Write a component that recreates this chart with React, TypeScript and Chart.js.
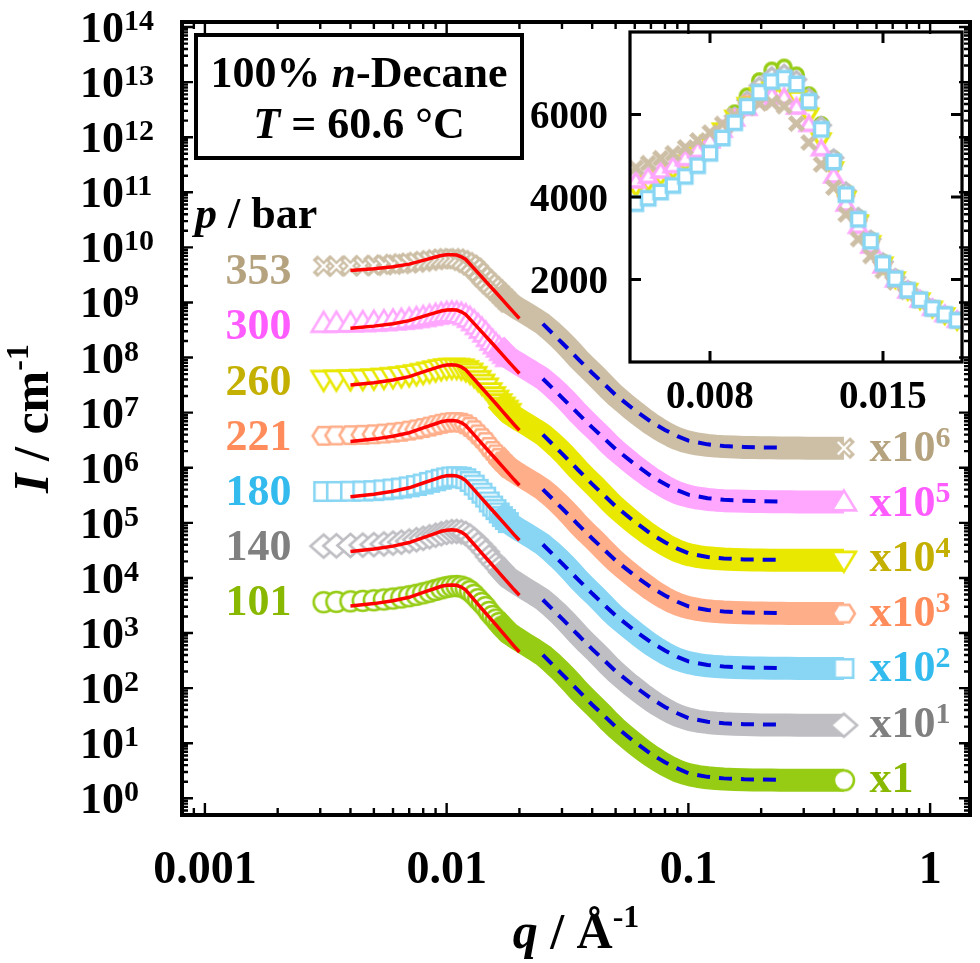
import React, { useEffect, useRef } from 'react';
import { Chart, registerables } from 'chart.js';

Chart.register(...registerables);

// ---------------- data ----------------
const q = [
  0.0031, 0.0035, 0.004, 0.0045, 0.005, 0.0055, 0.006, 0.0065, 0.007, 0.0075,
  0.008, 0.0085, 0.009, 0.0095, 0.01, 0.0105, 0.011, 0.0115, 0.012, 0.0125,
  0.013, 0.0135, 0.014, 0.0145, 0.015, 0.0155, 0.016, 0.0165, 0.017, 0.0175,
  0.018, 0.019, 0.02, 0.021, 0.022, 0.023, 0.024, 0.025, 0.027, 0.029,
  0.031, 0.033, 0.035, 0.038, 0.041, 0.044, 0.047, 0.05, 0.054, 0.058,
  0.062, 0.066, 0.07, 0.075, 0.08, 0.085, 0.09, 0.096, 0.102, 0.11,
  0.12, 0.13, 0.14, 0.155, 0.17, 0.185, 0.2, 0.22, 0.24, 0.26,
  0.285, 0.31, 0.34, 0.37, 0.4, 0.44,
];

const I101 = [
  3620, 3680, 3760, 3840, 3930, 4070, 4230, 4420, 4660, 4940,
  5260, 5640, 6040, 6450, 6820, 7080, 7150, 6960, 6480, 5760,
  4930, 4120, 3500, 2960, 2420, 2040, 1760, 1520, 1310, 1150,
  1010, 855, 740, 648, 570, 505, 447, 398, 298, 222,
  165, 123, 92, 64, 46, 34, 25, 19.2, 14.3, 11.0,
  8.7, 7.1, 5.9, 4.85, 4.1, 3.55, 3.15, 2.85, 2.65, 2.48,
  2.36, 2.29, 2.24, 2.2, 2.18, 2.16, 2.15, 2.14, 2.13, 2.13,
  2.12, 2.12, 2.12, 2.12, 2.12, 2.12,
];
const I140 = [
  3780, 3830, 3890, 3950, 4020, 4140, 4290, 4460, 4680, 4940,
  5240, 5590, 5960, 6350, 6700, 6940, 7000, 6850, 6420, 5740,
  4950, 4150, 3530, 2980, 2430, 2050, 1760, 1520, 1310, 1150,
  1010, 860, 745, 652, 575, 510, 452, 402, 302, 226,
  168, 125, 94, 65, 47, 34.5, 25.5, 19.6, 14.6, 11.2,
  8.9, 7.2, 6.0, 4.9, 4.15, 3.6, 3.2, 2.9, 2.68, 2.5,
  2.38, 2.3, 2.25, 2.21, 2.18, 2.16, 2.15, 2.14, 2.13, 2.13,
  2.12, 2.12, 2.12, 2.12, 2.12, 2.12,
];
const I180 = [
  3700, 3720, 3750, 3780, 3840, 3970, 4120, 4280, 4500, 4760,
  5060, 5430, 5800, 6200, 6540, 6800, 6880, 6740, 6320, 5640,
  4850, 4060, 3460, 2930, 2390, 2020, 1740, 1510, 1300, 1150,
  1010, 860, 745, 655, 580, 515, 455, 405, 305, 228,
  170, 127, 95, 66, 48, 35, 26, 20, 15, 11.6,
  9.2, 7.5, 6.2, 5.1, 4.3, 3.75, 3.35, 3.05, 2.85, 2.67,
  2.54, 2.46, 2.41, 2.37, 2.34, 2.32, 2.31, 2.3, 2.29, 2.29,
  2.28, 2.28, 2.27, 2.27, 2.27, 2.27,
];
const I221 = [
  3800, 3850, 3910, 3970, 4050, 4180, 4330, 4500, 4720, 4970,
  5260, 5590, 5930, 6280, 6560, 6720, 6740, 6560, 6150, 5520,
  4790, 4030, 3440, 2920, 2390, 2020, 1740, 1510, 1300, 1150,
  1010, 860, 745, 655, 580, 515, 455, 405, 305, 228,
  170, 127, 95, 66, 48, 35, 26, 20, 15, 11.6,
  9.2, 7.5, 6.2, 5.1, 4.3, 3.75, 3.35, 3.04, 2.84, 2.66,
  2.53, 2.45, 2.4, 2.36, 2.33, 2.31, 2.3, 2.29, 2.28, 2.27,
  2.27, 2.26, 2.26, 2.26, 2.26, 2.26,
];
const I260 = [
  4000, 4040, 4100, 4160, 4230, 4350, 4490, 4650, 4840, 5060,
  5320, 5620, 5930, 6240, 6480, 6610, 6600, 6400, 5980, 5380,
  4680, 3960, 3390, 2890, 2370, 2010, 1730, 1500, 1300, 1140,
  1000, 850, 738, 648, 572, 507, 450, 400, 300, 224,
  167, 124, 93, 64.5, 46.5, 34, 25, 19.2, 14.3, 11,
  8.7, 7.05, 5.85, 4.8, 4.05, 3.5, 3.1, 2.8, 2.6, 2.44,
  2.32, 2.25, 2.2, 2.16, 2.14, 2.12, 2.11, 2.1, 2.1, 2.09,
  2.09, 2.09, 2.09, 2.09, 2.09, 2.09,
];
const I300 = [
  4180, 4220, 4270, 4320, 4390, 4500, 4630, 4760, 4930, 5130,
  5360, 5620, 5890, 6150, 6360, 6460, 6420, 6180, 5760, 5170,
  4510, 3830, 3290, 2810, 2330, 1990, 1720, 1500, 1300, 1150,
  1010, 865, 752, 662, 586, 520, 462, 412, 311, 233,
  174, 130, 98, 68, 49.5, 36.5, 27, 21, 15.8, 12.2,
  9.7, 7.9, 6.55, 5.4, 4.55, 3.95, 3.52, 3.2, 2.98, 2.8,
  2.66, 2.58, 2.53, 2.49, 2.46, 2.44, 2.43, 2.42, 2.41, 2.41,
  2.4, 2.4, 2.4, 2.4, 2.4, 2.4,
];
const I353 = [
  4560, 4580, 4620, 4660, 4710, 4820, 4940, 5060, 5200, 5370,
  5560, 5770, 5980, 6160, 6270, 6290, 6200, 5780, 5320, 4790,
  4230, 3580, 2980, 2570, 2210, 1930, 1700, 1490, 1300, 1150,
  1010, 862, 748, 658, 582, 517, 458, 408, 307, 230,
  172, 128, 96, 67, 48.5, 35.5, 26.3, 20.3, 15.2, 11.7,
  9.3, 7.55, 6.25, 5.15, 4.35, 3.78, 3.37, 3.06, 2.86, 2.68,
  2.55, 2.47, 2.42, 2.37, 2.34, 2.32, 2.31, 2.3, 2.29, 2.28,
  2.28, 2.27, 2.27, 2.27, 2.27, 2.27,
];

// red solid model curves
const fitQ = [0.004, 0.005, 0.006, 0.007, 0.008, 0.009, 0.0095, 0.01, 0.0105, 0.011,
  0.0115, 0.012, 0.013, 0.014, 0.015, 0.016, 0.017, 0.018, 0.019, 0.02];
const fit101 = [3100, 3420, 3850, 4450, 5450, 6500, 7050, 7380, 7480, 7350, 6800, 6000, 4000, 2750, 1940, 1400, 1030, 770, 580, 453];
const fit140 = [3010, 3340, 3780, 4390, 5400, 6460, 7020, 7360, 7460, 7340, 6800, 6020, 4050, 2800, 1990, 1450, 1070, 805, 615, 485];
const fit180 = [2990, 3310, 3740, 4320, 5290, 6300, 6830, 7140, 7220, 7110, 6600, 5850, 3960, 2750, 1960, 1430, 1060, 800, 612, 483];
const fit221 = [2990, 3310, 3740, 4320, 5280, 6290, 6820, 7130, 7210, 7100, 6590, 5840, 3950, 2745, 1955, 1428, 1058, 798, 610, 482];
const fit260 = [3190, 3500, 3930, 4500, 5480, 6480, 7000, 7320, 7400, 7280, 6760, 5990, 4040, 2800, 1990, 1450, 1070, 800, 610, 480];
const fit300 = [3420, 3720, 4120, 4680, 5600, 6530, 7010, 7300, 7370, 7270, 6780, 6040, 4130, 2900, 2080, 1520, 1130, 850, 655, 513];
const fit353 = [3800, 4080, 4450, 4970, 5820, 6680, 7100, 7320, 7350, 7250, 6760, 6030, 4120, 2890, 2070, 1515, 1128, 848, 654, 512];

// blue dashed curves
const porodQ = [0.025, 0.03, 0.035, 0.04, 0.045, 0.05, 0.06, 0.07, 0.08, 0.09, 0.1, 0.12, 0.14, 0.17, 0.2, 0.25];
const porod101 = [400, 180, 91, 50, 31, 20, 10.5, 6.4, 4.5, 3.5, 2.85, 2.45, 2.3, 2.22, 2.19, 2.17];
const porod140 = [402, 182, 92, 51, 31.5, 20.3, 10.7, 6.5, 4.55, 3.5, 2.85, 2.45, 2.3, 2.22, 2.19, 2.17];
const porod180 = [405, 184, 93, 52, 32, 20.8, 11, 6.8, 4.8, 3.7, 3.05, 2.63, 2.47, 2.38, 2.34, 2.31];
const porod221 = [405, 184, 93, 52, 32, 20.8, 11, 6.8, 4.8, 3.7, 3.05, 2.62, 2.46, 2.37, 2.33, 2.3];
const porod260 = [400, 181, 91, 50.5, 31, 20, 10.4, 6.3, 4.45, 3.4, 2.8, 2.4, 2.25, 2.17, 2.14, 2.12];
const porod300 = [412, 188, 96, 54, 33.5, 21.8, 11.6, 7.1, 5.05, 3.9, 3.25, 2.8, 2.62, 2.52, 2.47, 2.44];
const porod353 = [408, 186, 94, 52.5, 32.5, 21, 11.1, 6.85, 4.85, 3.75, 3.1, 2.66, 2.48, 2.39, 2.34, 2.31];

const pressures = ['101', '140', '180', '221', '260', '300', '353'];
const scaleExponents = [0, 1, 2, 3, 4, 5, 6];
const intensities = [I101, I140, I180, I221, I260, I300, I353];
const fits = [fit101, fit140, fit180, fit221, fit260, fit300, fit353];
const porods = [porod101, porod140, porod180, porod221, porod260, porod300, porod353];

const xTickValues = [0.001, 0.01, 0.1, 1];
const xTickLabels = ['0.001', '0.01', '0.1', '1'];
const yTickExponents = [0, 1, 2, 3, 4, 5, 6, 7, 8, 9, 10, 11, 12, 13, 14];
const insetXTickValues = [0.008, 0.015];
const insetXTickLabels = ['0.008', '0.015'];
const insetYTickValues = [2000, 4000, 6000];
const insetYTickLabels = ['2000', '4000', '6000'];

// ---------------- styles ----------------
const bandColors = ['#96cc14', '#bebec3', '#88d6f4', '#ffae8a', '#e8e800', '#ffa6ff', '#cdbfa6'];
const labelColors = ['#88b800', '#808080', '#33bbee', '#ff8c5a', '#c4b000', '#ff5cff', '#b5a27e'];
const shapes = ['circle', 'diamond', 'square', 'hexagon', 'triDown', 'triUp', 'x'];
const mainMarkerR = [10, 12.5, 10.5, 11, 12, 12, 12];
const insetMarkerR = [6.8, 8.5, 7.6, 7.8, 8.6, 8.6, 9.5];
const insetDrawOrder = [6, 5, 0, 4, 3, 2, 1];

const FONT = '"Liberation Serif", "Times New Roman", serif';
const font = (size: number, italic = false) => `${italic ? 'italic ' : ''}bold ${size}px ${FONT}`;

function makeMarker(shape: string, r: number, lw: number, stroke: string, fill: string, solidX: boolean) {
  const dim = Math.ceil(2 * r + 2 * lw + 6);
  const c = document.createElement('canvas');
  c.width = dim;
  c.height = dim;
  const g = c.getContext('2d') as CanvasRenderingContext2D;
  const cx = dim / 2;
  const cy = dim / 2;
  g.lineWidth = lw;
  g.strokeStyle = stroke;
  g.fillStyle = fill;
  g.lineJoin = 'miter';
  if (shape === 'x') {
    const d = r * 0.72;
    g.lineCap = 'butt';
    g.beginPath();
    g.moveTo(cx - d, cy - d); g.lineTo(cx + d, cy + d);
    g.moveTo(cx + d, cy - d); g.lineTo(cx - d, cy + d);
    g.stroke();
    if (!solidX) {
      const d2 = d - lw * 0.35;
      g.lineWidth = lw * 0.32;
      g.strokeStyle = fill;
      g.beginPath();
      g.moveTo(cx - d2, cy - d2); g.lineTo(cx + d2, cy + d2);
      g.moveTo(cx + d2, cy - d2); g.lineTo(cx - d2, cy + d2);
      g.stroke();
    }
    return c;
  }
  g.beginPath();
  if (shape === 'circle') {
    g.arc(cx, cy, r, 0, Math.PI * 2);
  } else if (shape === 'square') {
    const h = r * 0.88;
    g.rect(cx - h, cy - h, 2 * h, 2 * h);
  } else if (shape === 'diamond') {
    g.moveTo(cx, cy - r * 0.92); g.lineTo(cx + r * 1.05, cy);
    g.lineTo(cx, cy + r * 0.92); g.lineTo(cx - r * 1.05, cy);
    g.closePath();
  } else if (shape === 'hexagon') {
    for (let k = 0; k < 6; k++) {
      const a = (k * Math.PI) / 3;
      const px = cx + r * Math.cos(a);
      const py = cy + r * 0.92 * Math.sin(a);
      if (k === 0) g.moveTo(px, py); else g.lineTo(px, py);
    }
    g.closePath();
  } else if (shape === 'triUp') {
    g.moveTo(cx, cy - r * 0.95); g.lineTo(cx + r, cy + r * 0.7); g.lineTo(cx - r, cy + r * 0.7);
    g.closePath();
  } else if (shape === 'triDown') {
    g.moveTo(cx, cy + r * 0.95); g.lineTo(cx + r, cy - r * 0.7); g.lineTo(cx - r, cy - r * 0.7);
    g.closePath();
  }
  g.fill();
  g.stroke();
  return c;
}

type Part = { t: string; f: string; dy?: number };
function drawRich(ctx: CanvasRenderingContext2D, parts: Part[], x: number, y: number, align: string, color: string) {
  let w = 0;
  for (const p of parts) { ctx.font = p.f; w += ctx.measureText(p.t).width; }
  let cx = align === 'left' ? x : align === 'center' ? x - w / 2 : x - w;
  ctx.textAlign = 'left';
  ctx.textBaseline = 'alphabetic';
  ctx.fillStyle = color;
  for (const p of parts) {
    ctx.font = p.f;
    ctx.fillText(p.t, cx, y + (p.dy || 0));
    cx += ctx.measureText(p.t).width;
  }
}

const mainDecor = {
  id: 'mainDecor',
  afterDatasetsDraw(chart: any) {
    const { ctx, chartArea: a } = chart;
    const xs = chart.scales.x;
    const ys = chart.scales.y;
    ctx.save();
    ctx.strokeStyle = '#000';
    ctx.lineWidth = 4;
    ctx.strokeRect(a.left, a.top, a.right - a.left, a.bottom - a.top);
    ctx.lineWidth = 2.4;
    ctx.beginPath();
    for (let e = -4; e <= 0; e++) {
      for (let k = 1; k <= 9; k++) {
        const v = k * Math.pow(10, e);
        if (v < xs.min || v > xs.max) continue;
        const px = xs.getPixelForValue(v);
        const len = k === 1 ? 12 : 7;
        ctx.moveTo(px, a.bottom); ctx.lineTo(px, a.bottom - len);
        ctx.moveTo(px, a.top); ctx.lineTo(px, a.top + len);
      }
    }
    for (let e = -1; e <= 14; e++) {
      for (let k = 1; k <= 9; k++) {
        const v = k * Math.pow(10, e);
        if (v < ys.min || v > ys.max) continue;
        const py = ys.getPixelForValue(v);
        const len = k === 1 ? 11 : 6;
        ctx.moveTo(a.left, py); ctx.lineTo(a.left + len, py);
        ctx.moveTo(a.right, py); ctx.lineTo(a.right - len, py);
      }
    }
    ctx.stroke();

    // tick labels
    xTickValues.forEach((v, i) => {
      drawRich(ctx, [{ t: xTickLabels[i], f: font(46) }], xs.getPixelForValue(v), a.bottom + 68, 'center', '#000');
    });
    yTickExponents.forEach((e) => {
      const py = ys.getPixelForValue(Math.pow(10, e));
      drawRich(ctx, [{ t: '10', f: font(44) }, { t: String(e), f: font(30), dy: -12 }], 80, py + 15, 'left', '#000');
    });

    // axis titles
    drawRich(ctx, [{ t: 'q', f: font(50, true) }, { t: ' / Å', f: font(50) }, { t: '-1', f: font(32), dy: -21 }],
      (a.left + a.right) / 2, 948, 'center', '#000');
    ctx.save();
    ctx.translate(48, (a.top + a.bottom) / 2);
    ctx.rotate(-Math.PI / 2);
    drawRich(ctx, [{ t: 'I', f: font(50, true) }, { t: ' / cm', f: font(50) }, { t: '-1', f: font(32), dy: -20 }], 0, 0, 'center', '#000');
    ctx.restore();

    // info box
    ctx.lineWidth = 4;
    ctx.strokeStyle = '#000';
    ctx.strokeRect(196, 35, 326, 123);
    drawRich(ctx, [{ t: '100% ', f: font(44) }, { t: 'n', f: font(44, true) }, { t: '-Decane', f: font(44) }], 359, 87, 'center', '#000');
    drawRich(ctx, [{ t: 'T', f: font(44, true) }, { t: ' = 60.6 °C', f: font(44) }], 359, 138, 'center', '#000');
    drawRich(ctx, [{ t: 'p', f: font(44, true) }, { t: ' / bar', f: font(44) }], 195, 228, 'left', '#000');

    // series labels
    pressures.forEach((p, i) => {
      const py = ys.getPixelForValue(2130 * Math.pow(10, scaleExponents[i]));
      drawRich(ctx, [{ t: p, f: font(44) }], xs.getPixelForValue(0.00228), py, 'right', labelColors[i]);
      const ry = ys.getPixelForValue(1.32 * Math.pow(10, scaleExponents[i]));
      const parts: Part[] = scaleExponents[i] === 0
        ? [{ t: 'x1', f: font(44) }]
        : [{ t: 'x10', f: font(44) }, { t: String(scaleExponents[i]), f: font(30), dy: -14 }];
      drawRich(ctx, parts, xs.getPixelForValue(0.561), ry, 'left', labelColors[i]);
    });
    ctx.restore();
  },
};

const insetDecor = {
  id: 'insetDecor',
  afterDatasetsDraw(chart: any) {
    const { ctx, chartArea: a } = chart;
    const xs = chart.scales.x;
    const ys = chart.scales.y;
    ctx.save();
    ctx.strokeStyle = '#000';
    ctx.lineWidth = 3.2;
    ctx.strokeRect(a.left, a.top, a.right - a.left, a.bottom - a.top);
    ctx.lineWidth = 3;
    ctx.beginPath();
    insetXTickValues.forEach((v) => {
      const px = xs.getPixelForValue(v);
      ctx.moveTo(px, a.bottom); ctx.lineTo(px, a.bottom - 11);
      ctx.moveTo(px, a.top); ctx.lineTo(px, a.top + 11);
    });
    insetYTickValues.forEach((v) => {
      const py = ys.getPixelForValue(v);
      ctx.moveTo(a.left, py); ctx.lineTo(a.left + 11, py);
      ctx.moveTo(a.right, py); ctx.lineTo(a.right - 11, py);
    });
    ctx.stroke();
    insetXTickValues.forEach((v, i) => {
      drawRich(ctx, [{ t: insetXTickLabels[i], f: font(39) }], xs.getPixelForValue(v), a.bottom + 46, 'center', '#000');
    });
    insetYTickValues.forEach((v, i) => {
      drawRich(ctx, [{ t: insetYTickLabels[i], f: font(39) }], a.left - 22, ys.getPixelForValue(v) + 13.5, 'right', '#000');
    });
    ctx.restore();
  },
};

export default function App() {
  const mainRef = useRef<HTMLCanvasElement>(null);
  const insetRef = useRef<HTMLCanvasElement>(null);

  useEffect(() => {
    document.body.style.margin = '0';
    if (!mainRef.current || !insetRef.current) return;

    const mainMarkers = shapes.map((s, i) => makeMarker(s, mainMarkerR[i], s === 'x' ? 7 : 2.6, bandColors[i], '#ffffff', false));
    const insetMarkers = shapes.map((s, i) => makeMarker(s, insetMarkerR[i], s === 'x' ? 5 : 3.4, bandColors[i], '#ffffff', true));

    const lastIdx = q.length - 1;
    const markerLimit = 30; // individual hollow markers up to q = 0.018
    const bandStart = 26; // solid band from q = 0.016 on

    const mainDatasets: any[] = [];
    pressures.forEach((p, i) => {
      const f = Math.pow(10, scaleExponents[i]);
      const pts = q.map((x, j) => ({ x, y: intensities[i][j] * f }));
      mainDatasets.push({
        label: `fit ${p}`,
        data: fitQ.map((x, j) => ({ x, y: fits[i][j] * f })),
        showLine: true,
        borderColor: '#ff0000',
        borderWidth: 3.5,
        pointRadius: 0,
        order: 0,
      });
      mainDatasets.push({
        label: `porod ${p}`,
        data: porodQ.map((x, j) => ({ x, y: porods[i][j] * f })),
        showLine: true,
        borderColor: '#0000dd',
        borderWidth: 4,
        borderDash: [13, 9],
        pointRadius: 0,
        order: 0,
      });
      // solid band (dense high-q data) + final hollow marker
      mainDatasets.push({
        label: `${p} bar band`,
        data: pts,
        showLine: true,
        borderColor: bandColors[i],
        borderWidth: 23,
        borderJoinStyle: 'round',
        segment: {
          borderColor: (ctx: any) => (ctx.p0DataIndex < bandStart ? 'rgba(0,0,0,0)' : undefined),
        },
        pointStyle: mainMarkers[i],
        pointRadius: (ctx: any) => (ctx.dataIndex === lastIdx ? 10 : 0),
        pointBorderWidth: 0,
        order: 1 + i,
      });
      // individual hollow markers at low q (drawn beneath the band)
      mainDatasets.push({
        label: `${p} bar`,
        data: pts,
        showLine: false,
        pointStyle: mainMarkers[i],
        pointRadius: (ctx: any) => (ctx.dataIndex <= markerLimit ? 10 : 0),
        pointBorderWidth: 0,
        order: 10 + i,
      });
    });

    const main = new Chart(mainRef.current, {
      type: 'scatter',
      data: { datasets: mainDatasets },
      options: {
        animation: false,
        responsive: false,
        events: [],
        layout: { padding: { left: 182, right: 7, top: 22, bottom: 148 } },
        plugins: { legend: { display: false }, tooltip: { enabled: false } },
        scales: {
          x: { type: 'logarithmic', min: 0.000804, max: 1.462, display: false },
          y: { type: 'logarithmic', min: 0.4977, max: 1.233e14, display: false },
        },
        elements: { line: { tension: 0 } },
      },
      plugins: [mainDecor],
    } as any);

    const xMin = 0.004763;
    const xMax = 0.018197;
    const insetDatasets = pressures.map((p, i) => ({
      label: `${p} bar`,
      data: q.map((x, j) => ({ x, y: intensities[i][j] })),
      showLine: false,
      pointStyle: insetMarkers[i],
      pointRadius: (ctx: any) => {
        const x = q[ctx.dataIndex];
        return x >= xMin && x <= xMax ? 7 : 0;
      },
      pointBorderWidth: 0,
      order: insetDrawOrder[i],
    }));

    const inset = new Chart(insetRef.current, {
      type: 'scatter',
      data: { datasets: insetDatasets },
      options: {
        animation: false,
        responsive: false,
        events: [],
        layout: { padding: { left: 630, right: 18, top: 32, bottom: 601 } },
        plugins: { legend: { display: false }, tooltip: { enabled: false } },
        scales: {
          x: { type: 'linear', min: xMin, max: xMax, display: false },
          y: { type: 'linear', min: 0, max: 8000, display: false },
        },
      },
      plugins: [insetDecor],
    } as any);

    let alive = true;
    const fonts: any = (document as any).fonts;
    if (fonts && fonts.load) {
      Promise.all([fonts.load(font(40)), fonts.load(font(40, true))]).then(() => {
        if (alive) { main.draw(); inset.draw(); }
      }).catch(() => {});
    }

    return () => {
      alive = false;
      main.destroy();
      inset.destroy();
    };
  }, []);

  return (
    <div style={{ position: 'relative', width: 980, height: 963, background: '#fff' }}>
      <canvas ref={mainRef} width={980} height={963} style={{ position: 'absolute', left: 0, top: 0 }} />
      <canvas ref={insetRef} width={980} height={963} style={{ position: 'absolute', left: 0, top: 0 }} />
    </div>
  );
}
